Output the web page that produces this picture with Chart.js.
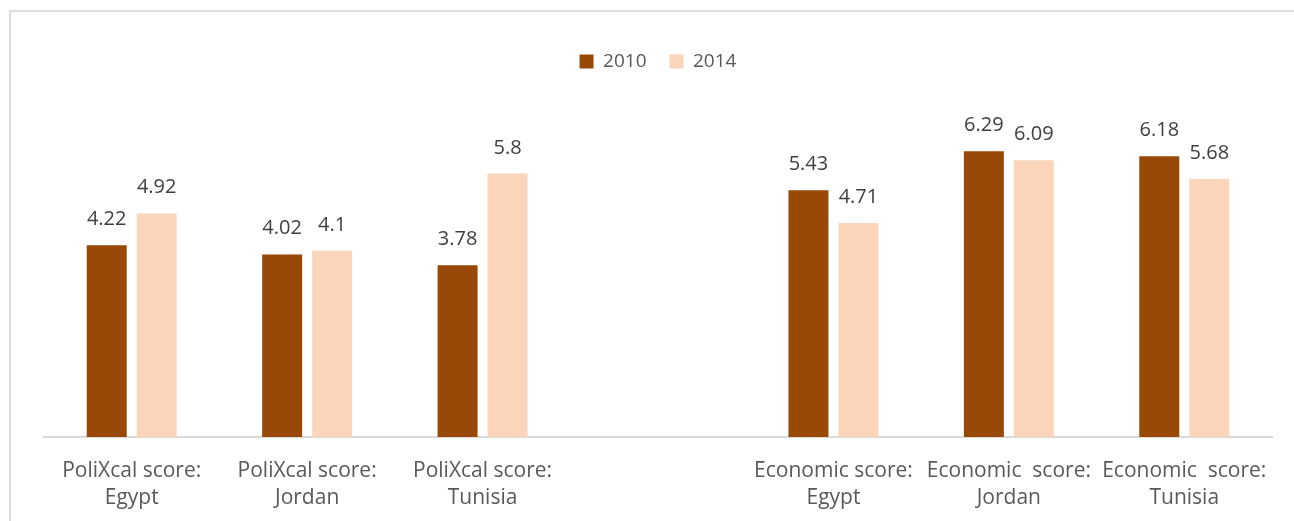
<!DOCTYPE html>
<html lang="en">
<head>
    <meta charset="UTF-8">
    <title>PoliXcal and Economic scores</title>
    <script src="https://cdn.jsdelivr.net/npm/chart.js"></script>
    <style>
        html, body { margin: 0; padding: 0; background: #fff; }
        #frame {
            position: absolute; left: 9px; top: 10px; width: 1300px; height: 530px;
            border-left: 2px solid #dedede; border-top: 2px solid #dedede;
        }
        #wrap { position: absolute; left: 0; top: 0; width: 1294px; height: 521px; }
    </style>
</head>
<body>
    <div id="frame"></div>
    <div id="wrap"><canvas id="myChart"></canvas></div>
    <script>
        // categories (the empty one is the gap between the two groups)
        const categories = [
            ['PoliXcal score:', 'Egypt'],
            ['PoliXcal score:', 'Jordan'],
            ['PoliXcal score:', 'Tunisia'],
            '',
            ['Economic score:', 'Egypt'],
            ['Economic  score:', 'Jordan'],
            ['Economic  score:', 'Tunisia']
        ];
        const values2010 = [4.22, 4.02, 3.78, null, 5.43, 6.29, 6.18];
        const values2014 = [4.92, 4.1, 5.8, null, 4.71, 6.09, 5.68];

        // value labels above each bar
        const barLabels = {
            id: 'barLabels',
            afterDatasetsDraw(chart) {
                const ctx = chart.ctx;
                ctx.save();
                ctx.font = '20px "Open Sans"';
                ctx.fillStyle = '#404040';
                ctx.textAlign = 'center';
                ctx.textBaseline = 'alphabetic';
                chart.data.datasets.forEach((ds, i) => {
                    chart.getDatasetMeta(i).data.forEach((bar, j) => {
                        if (ds.data[j] == null) return;
                        ctx.fillText(String(ds.data[j]), bar.x, bar.y - 20);
                    });
                });
                ctx.restore();
            }
        };

        // extra room under the legend
        const legendSpace = {
            id: 'legendSpace',
            beforeInit(chart) {
                const fit = chart.legend.fit;
                chart.legend.fit = function () {
                    fit.bind(chart.legend)();
                    this.height += 38;
                };
            }
        };

        const ctx = document.getElementById('myChart').getContext('2d');
        const scoreChart = new Chart(ctx, {
            type: 'bar',
            data: {
                labels: categories,
                datasets: [
                    {
                        label: '2010',
                        data: values2010,
                        backgroundColor: '#984807'
                    },
                    {
                        label: '2014',
                        data: values2014,
                        backgroundColor: '#fbd5ba'
                    }
                ]
            },
            options: {
                responsive: true,
                maintainAspectRatio: false,
                animation: false,
                categoryPercentage: 0.57,
                barPercentage: 0.8,
                layout: {
                    padding: { left: 44, right: 22, top: 29, bottom: 0 }
                },
                plugins: {
                    legend: {
                        position: 'top',
                        labels: {
                            boxWidth: 14,
                            boxHeight: 14,
                            padding: 23,
                            color: '#595959',
                            font: { family: '"Open Sans"', size: 19 }
                        }
                    },
                    tooltip: { enabled: false }
                },
                scales: {
                    x: {
                        grid: { display: false, drawTicks: false },
                        border: { display: true, color: '#d9d9d9', width: 2 },
                        ticks: {
                            color: '#595959',
                            padding: 21,
                            autoSkip: false,
                            maxRotation: 0,
                            font: { family: '"Open Sans"', size: 21, lineHeight: 1.27 }
                        },
                        afterFit(scale) {
                            scale.height = 84;
                        }
                    },
                    y: {
                        display: false,
                        min: 0,
                        max: 7
                    }
                }
            },
            plugins: [barLabels, legendSpace]
        });
    </script>
</body>
</html>
